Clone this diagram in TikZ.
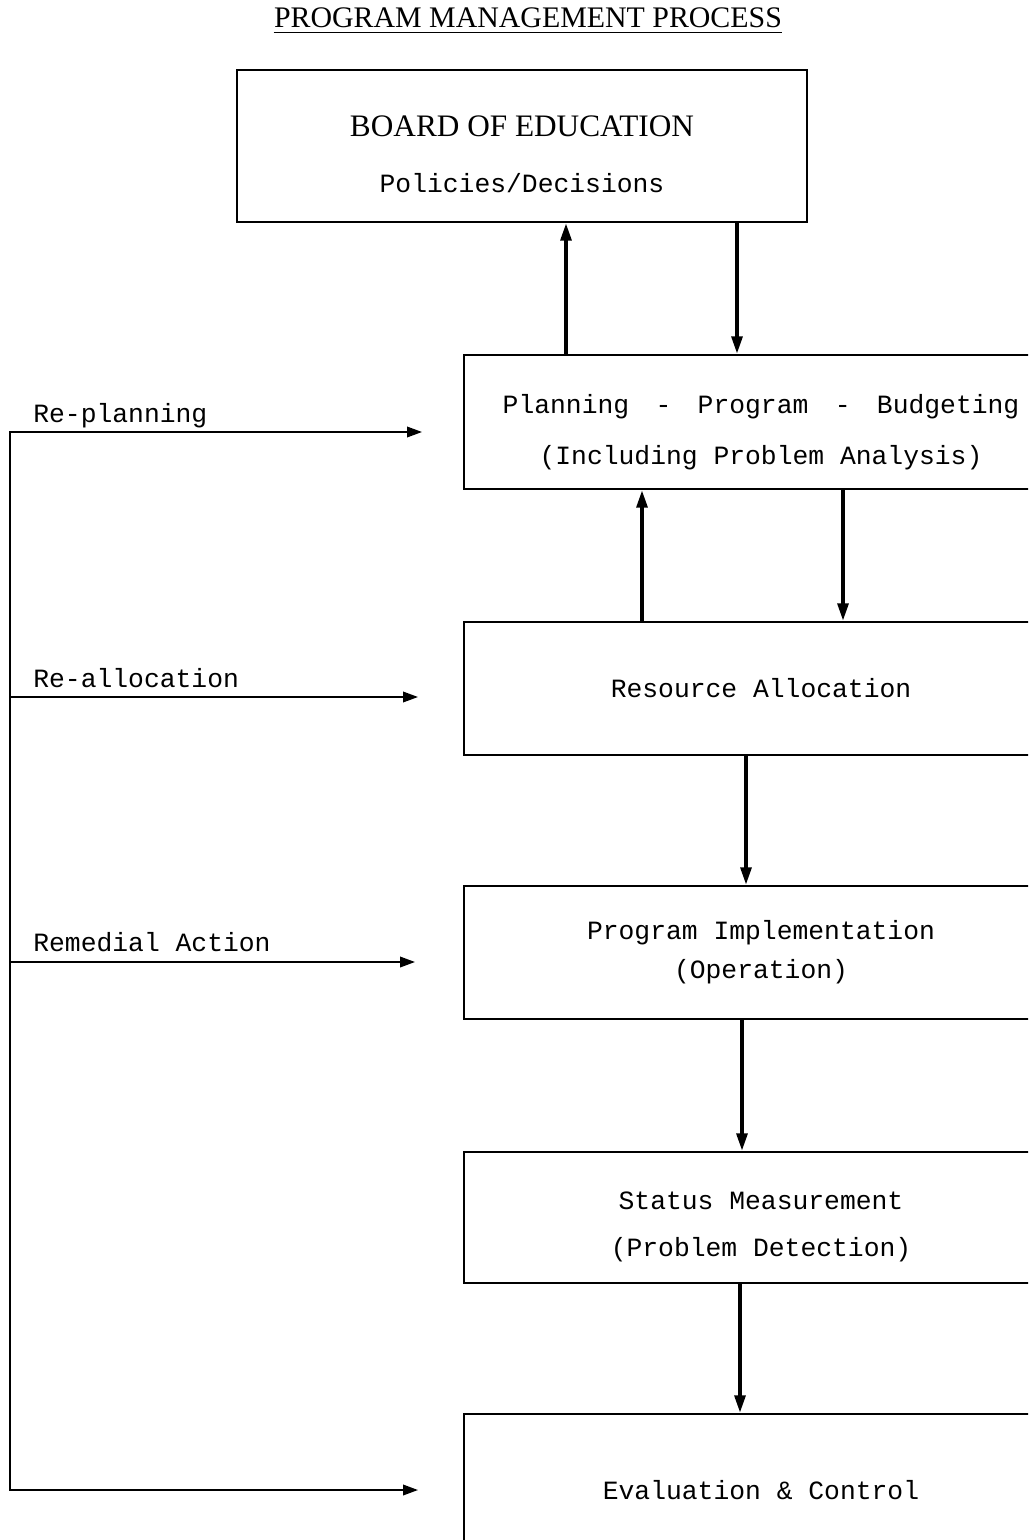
\documentclass[tikz,border=0pt]{standalone}
\usepackage{fontspec}
\setmainfont{Liberation Mono}
\newfontfamily\capsfont{Liberation Serif}
\usetikzlibrary{arrows.meta}

\begin{document}
\begin{tikzpicture}[x=0.02cm,y=-0.02cm,
    box/.style={rectangle,draw,line width=1.1pt,align=center,
      font=\fontsize{15}{18}\selectfont,minimum width=11.88cm},
    flow/.style={line width=2.2pt,-{Triangle[length=10pt,width=6pt]}},
    feed/.style={line width=1pt,-{Triangle[length=8.5pt,width=6pt]}},
    lbl/.style={anchor=base west,inner sep=0pt,font=\fontsize{15}{18}\selectfont}]
  \clip (0,0) rectangle (1028,1540);
  \node[inner sep=0pt,font=\capsfont\fontsize{17}{20}\selectfont] (title) at (528,18) {PROGRAM MANAGEMENT PROCESS};
  \draw[line width=0.9pt] ([yshift=-2.8pt]title.base west) -- ([yshift=-2.8pt]title.base east);
  \node[box,minimum width=11.4cm,minimum height=3.04cm] (board) at (522,146)
    {\rule{0pt}{21pt}{\capsfont\fontsize{17.8}{20}\selectfont BOARD OF EDUCATION}\\[14pt]Policies/Decisions};
  \node[box,minimum height=2.68cm] (plan) at (761,422)
    {\rule{0pt}{22pt}Planning\hspace{1em}-\hspace{1em}Program\hspace{1em}-\hspace{1em}Budgeting\\[11pt](Including Problem Analysis)};
  \node[box,minimum height=2.66cm] (alloc) at (761,688.5) {Resource Allocation};
  \node[box,minimum height=2.66cm] (impl) at (761,952.5)
    {Program Implementation\\[4pt](Operation)};
  \node[box,minimum height=2.62cm] (status) at (761,1217.5)
    {\rule{0pt}{21pt}Status Measurement\\[9pt](Problem Detection)};
  \node[box,minimum height=3.04cm] (eval) at (761,1490) {Evaluation \& Control};
  \draw[flow] (board.south -| 737,0) -- (plan.north -| 737,0);
  \draw[flow] (plan.north -| 566,0) -- (board.south -| 566,0);
  \draw[flow] (plan.south -| 843,0) -- (alloc.north -| 843,0);
  \draw[flow] (alloc.north -| 642,0) -- (plan.south -| 642,0);
  \draw[flow] (alloc.south -| 746,0) -- (impl.north -| 746,0);
  \draw[flow] (impl.south -| 742,0) -- (status.north -| 742,0);
  \draw[flow] (status.south -| 740,0) -- (eval.north -| 740,0);
  \coordinate (rail1) at (10,432);
  \coordinate (rail2) at (10,697);
  \coordinate (rail3) at (10,962);
  \coordinate (rail4) at (10,1490);
  \coordinate (tip1) at (422,432);
  \coordinate (tip2) at (418,697);
  \coordinate (tip3) at (415,962);
  \coordinate (tip4) at (418,1490);
  \draw[feed,{Triangle[length=8.5pt,width=6pt]}-{Triangle[length=8.5pt,width=6pt]}] (tip1) -- (rail1) -- (rail4) -- (tip4);
  \draw[feed] (rail2) -- (tip2);
  \draw[feed] (rail3) -- (tip3);
  \node[lbl] (replan) at (33,422) {Re-planning};
  \node[lbl] (realloc) at (33,687) {Re-allocation};
  \node[lbl] (remedy) at (33,951) {Remedial Action};
\end{tikzpicture}
\end{document}
